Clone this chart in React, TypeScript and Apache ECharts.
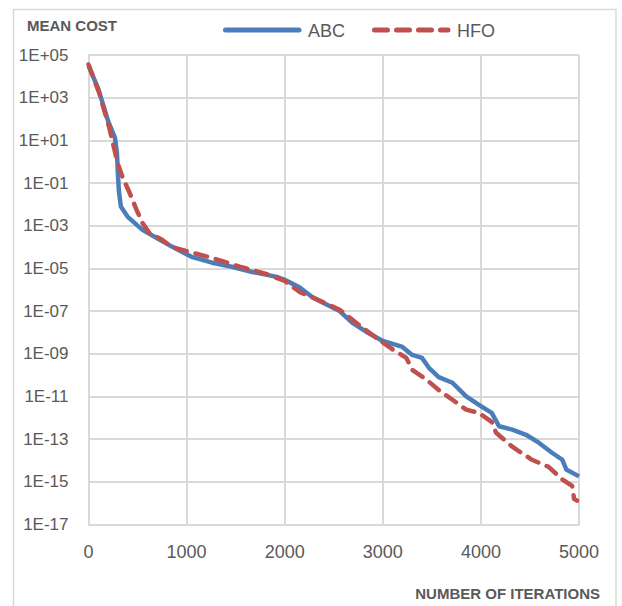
import React, { useEffect, useRef } from "react";
import * as echarts from "echarts";

const abcIter = [0, 100, 200, 270, 290, 300, 310, 330, 400, 550, 700, 850, 1050, 1260, 1460, 1670, 1920, 2000, 2150, 2280, 2380, 2560, 2690, 2830, 3000, 3200, 3300, 3400, 3470, 3570, 3710, 3850, 3980, 4110, 4185, 4320, 4460, 4590, 4725, 4830, 4870, 5000];
const abcCost = [3.2e4, 2.6e3, 8e1, 1.3e1, 2.6, 2.6e-1, 4e-2, 8e-3, 2.6e-3, 6.4e-4, 2.6e-4, 1.05e-4, 3.5e-5, 1.85e-5, 1.2e-5, 6.8e-6, 4e-6, 2.9e-6, 1.3e-6, 4.6e-7, 2.6e-7, 1e-7, 2.8e-8, 1.08e-8, 4e-9, 2.1e-9, 8.8e-10, 6.4e-10, 2.2e-10, 8e-11, 4.4e-11, 1e-11, 4e-12, 1.7e-12, 4e-13, 2.8e-13, 1.6e-13, 6.8e-14, 2.3e-14, 1.08e-14, 3.8e-15, 1.8e-15];

const hfoIter = [0, 110, 210, 265, 295, 345, 420, 490, 550, 620, 750, 850, 1030, 1260, 1540, 1810, 2000, 2150, 2350, 2560, 2760, 2960, 3100, 3240, 3300, 3440, 3570, 3710, 3850, 3980, 4110, 4155, 4320, 4520, 4690, 4830, 4930, 4950, 4980];
const hfoCost = [3.6e4, 1.6e3, 4.2e1, 3.6, 0.9, 2e-1, 3.4e-2, 5.5e-3, 1.36e-3, 4.6e-4, 2.2e-4, 1e-4, 5.9e-5, 3.1e-5, 1.2e-5, 5.5e-6, 2.6e-6, 8e-7, 3.2e-7, 1.16e-7, 2.2e-8, 4.5e-9, 1.6e-9, 6.4e-10, 1.76e-10, 6.4e-11, 2e-11, 7e-12, 2.4e-12, 1.7e-12, 6.4e-13, 2e-13, 4.4e-14, 1.08e-14, 5e-15, 1.3e-15, 6.4e-16, 1.6e-16, 1.3e-16];

const xTicks = [0, 1000, 2000, 3000, 4000, 5000];
const minExp = -17;
const maxExp = 5;
const seriesNames = ["ABC", "HFO"];
const seriesColors = ["#4a7ebb", "#c0504d"];

const FONT = "'Liberation Sans', Arial, sans-serif";
const TEXT = "#595959";
const GRID = "#d9d9d9";

function toAxis(v: number) {
  return Math.log10(v) - minExp;
}
function expLabel(val: number) {
  const e = Math.round(val + minExp);
  const a = Math.abs(e);
  return "1E" + (e >= 0 ? "+" : "-") + (a < 10 ? "0" + a : String(a));
}

export default function App() {
  const ref = useRef<HTMLDivElement>(null);
  useEffect(() => {
    if (!ref.current) return;
    const chart = echarts.init(ref.current, undefined, { renderer: "svg" });
    chart.setOption({
      animation: false,
      backgroundColor: "#ffffff",
      textStyle: { fontFamily: FONT },
      grid: { left: 88.5, right: 43, top: 55, bottom: 81.5, containLabel: false },
      xAxis: {
        type: "value",
        min: xTicks[0],
        max: xTicks[xTicks.length - 1],
        interval: 1000,
        axisLine: { show: true, lineStyle: { color: GRID, width: 2 } },
        axisTick: { show: false },
        splitLine: { show: true, lineStyle: { color: GRID, width: 2 } },
        axisLabel: {
          color: TEXT,
          fontSize: 18,
          fontFamily: FONT,
          margin: 18,
          formatter: (v: number) => String(v),
        },
      },
      yAxis: {
        type: "value",
        min: 0,
        max: maxExp - minExp,
        interval: 2,
        axisLine: { show: true, lineStyle: { color: GRID, width: 2 } },
        axisTick: { show: false },
        splitLine: { show: true, lineStyle: { color: GRID, width: 2 } },
        axisLabel: { color: TEXT, fontSize: 17, fontFamily: FONT, margin: 20, formatter: expLabel },
      },
      graphic: [
        {
          type: "rect",
          shape: { x: 13.5, y: 9.5, width: 602.5, height: 620 },
          style: { fill: "none", stroke: GRID, lineWidth: 1.5 },
          silent: true,
        },
        {
          type: "text",
          x: 27,
          y: 25,
          style: {
            text: "MEAN COST",
            fill: TEXT,
            font: `bold 15px ${FONT}`,
            verticalAlign: "middle",
          },
        },
        {
          type: "line",
          shape: { x1: 225.5, y1: 30, x2: 299, y2: 30 },
          style: { stroke: seriesColors[0], lineWidth: 5, lineCap: "round" },
        },
        {
          type: "text",
          x: 308,
          y: 31,
          style: { text: seriesNames[0], fill: TEXT, font: `18px ${FONT}`, verticalAlign: "middle" },
        },
        {
          type: "line",
          shape: { x1: 374.5, y1: 30, x2: 448, y2: 30 },
          style: { stroke: seriesColors[1], lineWidth: 5, lineCap: "round", lineDash: [13, 9] },
        },
        {
          type: "text",
          x: 457,
          y: 31,
          style: { text: seriesNames[1], fill: TEXT, font: `18px ${FONT}`, verticalAlign: "middle" },
        },
        {
          type: "text",
          x: 600,
          y: 593,
          style: {
            text: "NUMBER OF ITERATIONS",
            fill: TEXT,
            font: `bold 15px ${FONT}`,
            align: "right",
            verticalAlign: "middle",
          },
        },
      ],
      series: [
        {
          name: seriesNames[0],
          type: "line",
          showSymbol: false,
          symbol: "none",
          data: abcIter.map((x, i) => [x, toAxis(abcCost[i])]),
          lineStyle: { color: seriesColors[0], width: 4.5, join: "round" },
          itemStyle: { color: seriesColors[0] },
          z: 2,
        },
        {
          name: seriesNames[1],
          type: "line",
          showSymbol: false,
          symbol: "none",
          data: hfoIter.map((x, i) => [x, toAxis(hfoCost[i])]),
          lineStyle: { color: seriesColors[1], width: 4.5, type: [12, 9], cap: "round", join: "round" },
          itemStyle: { color: seriesColors[1] },
          z: 3,
        },
      ],
    });
    return () => chart.dispose();
  }, []);
  return (
    <div
      ref={ref}
      style={{ position: "absolute", left: 0, top: 0, width: 622, height: 606 }}
    />
  );
}
